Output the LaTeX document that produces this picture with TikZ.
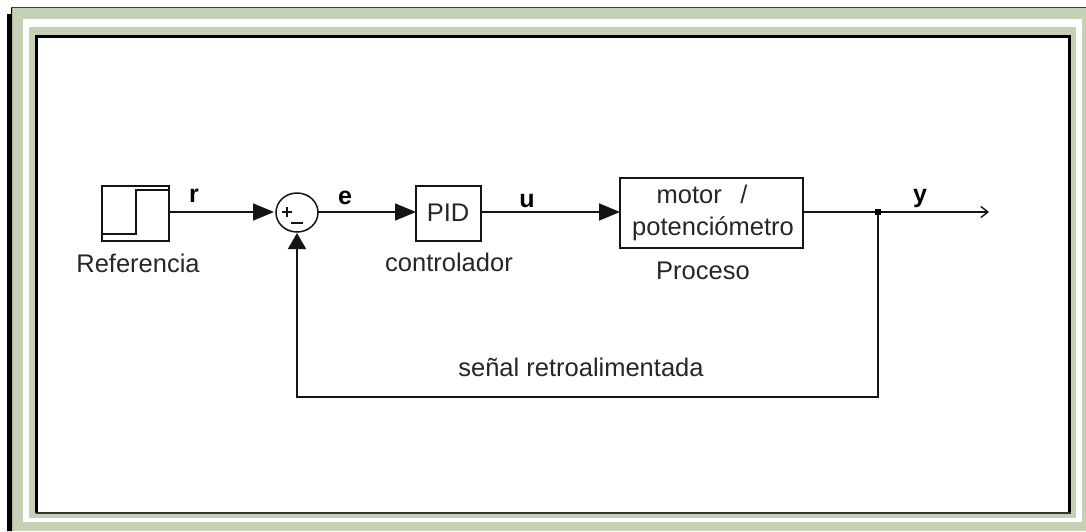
\documentclass[tikz,border=0pt]{standalone}
\usepackage{fontspec}
\setmainfont{Liberation Sans}
\usetikzlibrary{arrows.meta,shapes.geometric}
\definecolor{framegreen}{RGB}{196,209,180}
\definecolor{wline}{RGB}{20,20,20}
\tikzset{
  x=1pt,y=-1pt,
  wire/.style={draw=wline,line width=1.6pt},
  blockbox/.style={draw=wline,line width=1.5pt,fill=white,minimum width=0pt,inner sep=0pt},
  lab/.style={font=\fontsize{25.5}{27}\selectfont,text=black!85,inner sep=0pt,anchor=base},
  sig/.style={font=\bfseries\fontsize{25}{27}\selectfont,text=black,inner sep=0pt,anchor=base},
  bigtip/.style={-{Triangle[length=21pt,width=17pt]}},
}
\begin{document}
\begin{tikzpicture}
\useasboundingbox (0,0) rectangle (1086,531);
% frame
\fill[white] (0,0) rectangle (1086,531);
\fill[framegreen] (11,8) rectangle (1086,531);
\fill[white] (23,19) rectangle (1082,522);
\fill[framegreen] (29,27) rectangle (1076,518);
\fill[white] (36,35) rectangle (1070,513);
\draw[black!75,line width=1.5pt] (11,7.5) -- (1086,7.5);
\fill[black] (7,14) -- (11,14) -- (11,8) -- (12,8) -- (12,531) -- (7,531) -- cycle;
\draw[black,line width=3pt] (36.5,513) -- (36.5,36) -- (1069.5,36) -- (1069.5,513);
\draw[black!80,line width=2.6pt] (36,513) -- (1071,513);
% blocks
\node[blockbox,minimum width=67pt,minimum height=55pt] (ref) at (135.5,213.5) {};
\node[blockbox,minimum width=65pt,minimum height=55pt] (pid) at (448.5,213.5) {};
\node[blockbox,minimum width=183pt,minimum height=70pt] (proc) at (711.5,213) {};
\node[draw=wline,line width=1.5pt,ellipse,minimum width=42pt,minimum height=39pt,inner sep=0pt] (sum) at (297,212.5) {};
\coordinate (stepa) at (102,234);
\coordinate (stepb) at (136,234);
\coordinate (stepc) at (136,190);
\coordinate (stepd) at (169,190);
\draw[wire] (stepa) -- (stepb) -- (stepc) -- (stepd);
% sum signs
\draw[wline,line width=1.4pt] (282,212) -- (292,212) (287,207) -- (287,217);
\draw[wline,line width=1.6pt] (291,223) -- (303,223);
% connectors
\coordinate (refout) at (169,212);
\coordinate (sumin) at (274,212);
\coordinate (sumout) at (318,212);
\coordinate (sumbot) at (297,233);
\coordinate (pidin) at (416,212);
\coordinate (pidout) at (481,212);
\coordinate (procin) at (620,212);
\coordinate (procout) at (803,212);
\coordinate (junc) at (878,212);
\coordinate (yend) at (989,212);
\coordinate (fbc) at (878,397);
\coordinate (fbd) at (297,397);
\draw[wire,bigtip] (refout) -- (sumin);
\draw[wire,bigtip] (sumout) -- (pidin);
\draw[wire,bigtip] (pidout) -- (procin);
\draw[wire] (procout) -- (junc);
\draw[wire,-{Straight Barb[length=7pt,width=11pt,line width=1.4pt]}] (junc) -- (yend);
\draw[wire,-{Triangle[length=16pt,width=18pt]}] (junc) -- (fbc) -- (fbd) -- (sumbot);
\fill[black] (875,209) rectangle (881,215);
% labels
\node[sig] (r) at (194,202) {r};
\node[sig] (e) at (345,204) {e};
\node[sig] (u) at (527,207) {u};
\node[sig] (yl) at (920,202) {y};
\node[lab] (l1) at (138,272) {Referencia};
\node[lab] (l2) at (449,271) {controlador};
\node[lab] (pt) at (448,221) {PID};
\node[lab] (m1) at (702,203) {motor\ \ \,/};
\node[lab] (m2) at (713,235) {potenciómetro};
\node[lab] (l3) at (703,279) {Proceso};
\node[lab] (l4) at (581,376) {señal retroalimentada};
\end{tikzpicture}
\end{document}
